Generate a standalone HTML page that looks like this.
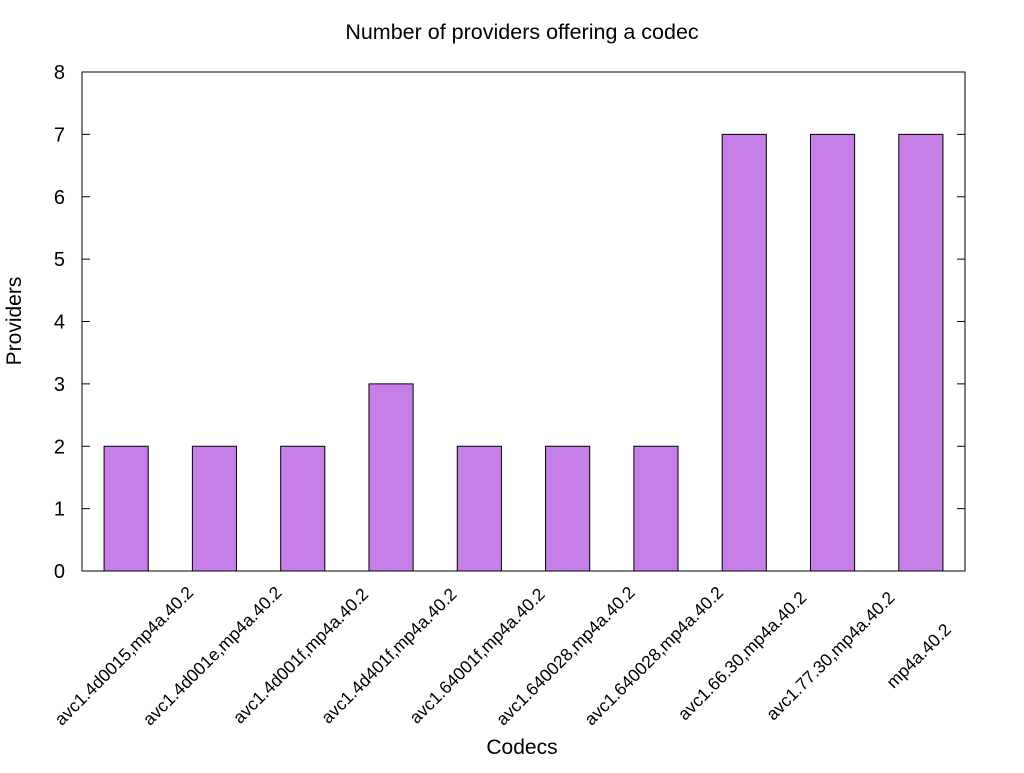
<!DOCTYPE html>
<html><head><meta charset="utf-8"><style>
body{margin:0;background:#fff}
svg text{font-family:"Liberation Sans",sans-serif;fill:#000}
</style></head><body>
<svg id="chart" width="1024" height="768" xmlns="http://www.w3.org/2000/svg">
<text x="522" y="39" font-size="21.5" text-anchor="middle">Number of providers offering a codec</text>
<text transform="translate(21,321) rotate(-90)" font-size="21" text-anchor="middle">Providers</text>
<text x="522" y="754" font-size="21" text-anchor="middle">Codecs</text>
<g id="plot"></g>
</svg>
<script>
const categories=["avc1.4d0015,mp4a.40.2","avc1.4d001e,mp4a.40.2","avc1.4d001f,mp4a.40.2","avc1.4d401f,mp4a.40.2","avc1.64001f,mp4a.40.2","avc1.640028,mp4a.40.2","avc1.640028,mp4a.40.2","avc1.66.30,mp4a.40.2","avc1.77.30,mp4a.40.2","mp4a.40.2"];
const providers=[2,2,2,3,2,2,2,7,7,7];
const yTicks=[0,1,2,3,4,5,6,7,8];
const NS="http://www.w3.org/2000/svg";
const L=82,R=965,T=72,B=571,yMax=8;
const g=document.getElementById('plot');
function ys(v){return B-(v/yMax)*(B-T);}
const slot=(R-L)/categories.length;
function xc(i){return L+slot*(i+0.5);}
function mk(tag,attrs){const e=document.createElementNS(NS,tag);for(const k in attrs)e.setAttribute(k,attrs[k]);g.appendChild(e);return e;}
yTicks.forEach(t=>{
 const y=ys(t);
 let l=mk('line',{x1:L,x2:L+8,y1:y,y2:y,stroke:'#000'});
 
 
 let r=mk('line',{x1:R-8,x2:R,y1:y,y2:y,stroke:'#000'});
 
 
 let tx=mk('text',{x:L-17,y:y+7,'font-size':20,'text-anchor':'end'});
 tx.textContent=t;
 
 
});
const bw=slot*0.5;
providers.forEach((v,i)=>{
 let b=mk('rect',{x:xc(i)-bw/2,y:ys(v),width:bw,height:B-ys(v),fill:'#c77fe8',stroke:'#000','stroke-width':1});
 
 
 let tx=mk('text',{transform:'translate('+(xc(i)+2)+',660) rotate(-45)','font-size':17.5,'text-anchor':'middle'});
 tx.textContent=categories[i];
 
 
});
let f=mk('rect',{x:L,y:T,width:R-L,height:B-T,fill:'none',stroke:'#000','stroke-width':1});


</script>
</body></html>
